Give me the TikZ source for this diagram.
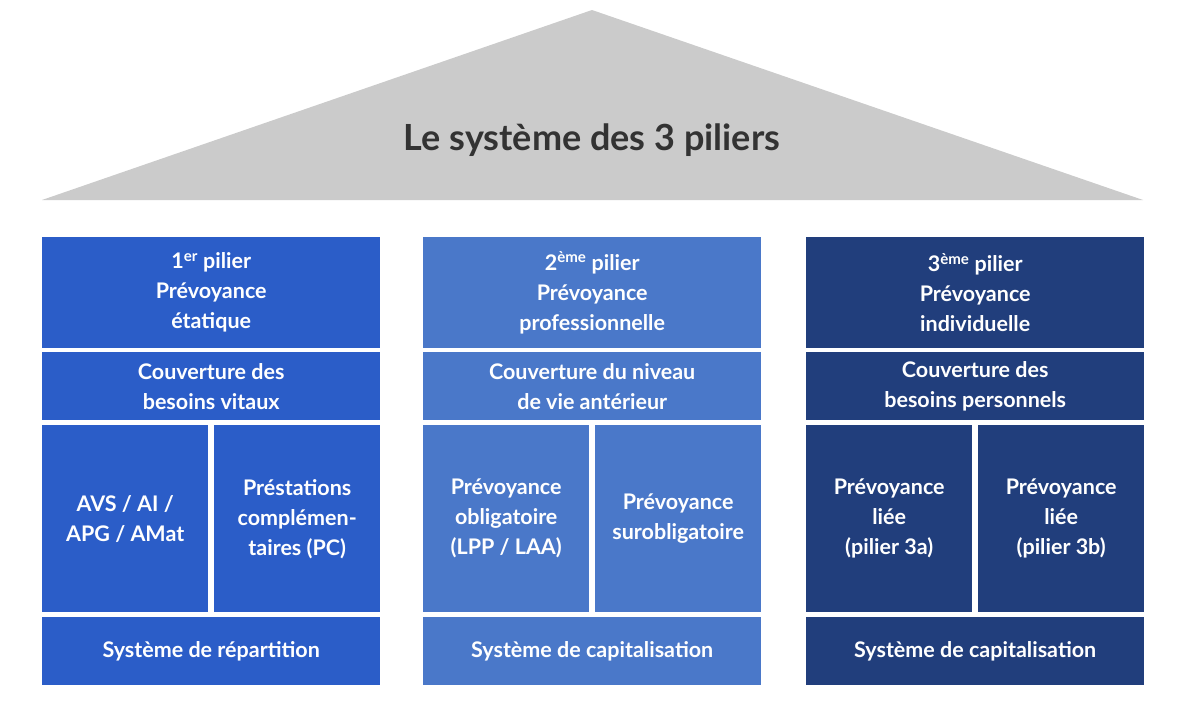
\documentclass[tikz,border=0pt]{standalone}
\usepackage{fontspec}
\setmainfont{Lato}
\begin{document}
\begin{tikzpicture}[x=1pt,y=1pt,
  box/.style={fill=#1, text=white, font=\bfseries\fontsize{21.5}{30}\selectfont, align=center, anchor=north west, inner sep=2pt},
]
\useasboundingbox (0,0) rectangle (1200,-704);
\definecolor{cA}{HTML}{2B5DC8}
\definecolor{cB}{HTML}{4A78C9}
\definecolor{cC}{HTML}{213E7C}
\definecolor{roof}{HTML}{CBCBCB}
\fill[roof] (42,-200) -- (592,-10) -- (1143,-200) -- cycle;
\node[font=\bfseries\fontsize{36}{40}\selectfont, text=black!80] (title) at (592,-140) {Le système des 3 piliers};
\foreach \c/\x/\col/\h/\r/\a/\b/\bot [count=\i] in {
  cA/42/cA/{\textsuperscript{er} pilier}/{Couverture des\\besoins vitaux}/{AVS / AI /\\APG / AMat}/{Préstations\\complémen-\\taires (PC)}/{Système de répartition},
  cB/423/cB/{\textsuperscript{ème} pilier}/{Couverture du niveau\\de vie antérieur}/{Prévoyance\\obligatoire\\(LPP / LAA)}/{Prévoyance\\surobligatoire}/{Système de capitalisation},
  cC/806/cC/{\textsuperscript{ème} pilier}/{Couverture des\\besoins personnels}/{Prévoyance\\liée\\(pilier 3a)}/{Prévoyance\\liée\\(pilier 3b)}/{Système de capitalisation}}
{
  \node[box=\col, minimum width=338pt, minimum height=111pt] (h\i) at (\x,-237) {\i\h\\Prévoyance\\\ifcase\i\or étatique\or professionnelle\or individuelle\fi};
  \node[box=\col, minimum width=338pt, minimum height=68pt] (r\i) at (\x,-352) {\r};
  \node[box=\col, minimum width=166pt, minimum height=187pt] (a\i) at (\x,-425) {\a};
  \node[box=\col, minimum width=166pt, minimum height=187pt] (b\i) at (\x+172,-425) {\b};
  \node[box=\col, minimum width=338pt, minimum height=68pt] (s\i) at (\x,-617) {\bot};
}
\end{tikzpicture}
\end{document}
